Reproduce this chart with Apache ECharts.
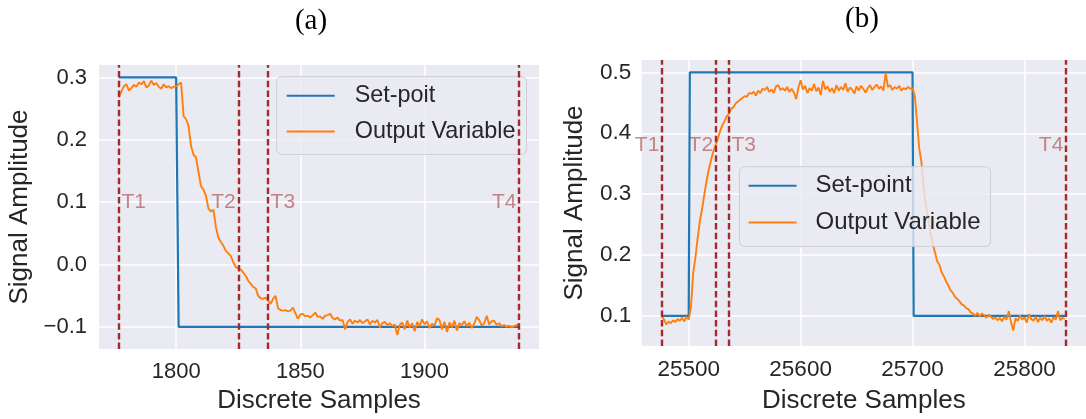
<!DOCTYPE html>
<html><head><meta charset="utf-8">
<script src="https://cdn.jsdelivr.net/npm/echarts@6/dist/echarts.min.js"></script>
<style>html,body{margin:0;padding:0;background:#fff}#c{width:1086px;height:419px}</style>
</head><body><div id="c"></div><script>
// ---------- DATA ----------
const leftStart = 1777;
const leftOutput = [
 0.268,0.278,0.286,0.289,0.279,0.283,0.288,0.285,0.292,0.289,
 0.294,0.284,0.287,0.295,0.288,0.291,0.285,0.282,0.289,0.284,
 0.286,0.283,0.285,0.286,0.289,0.292,0.238,0.233,0.222,0.190,
 0.176,0.172,0.148,0.126,0.120,0.110,0.090,0.085,0.088,0.060,
 0.043,0.036,0.030,0.022,0.018,0.014,0.004,-0.004,-0.006,-0.008,
 -0.013,-0.018,-0.026,-0.031,-0.036,-0.038,-0.050,-0.054,-0.055,-0.053,
 -0.058,-0.063,-0.055,-0.050,-0.070,-0.073,-0.074,-0.073,-0.075,-0.074,
 -0.069,-0.078,-0.087,-0.080,-0.079,-0.083,-0.082,-0.085,-0.081,-0.077,
 -0.084,-0.083,-0.087,-0.082,-0.081,-0.079,-0.086,-0.088,-0.085,-0.090,
 -0.089,-0.104,-0.092,-0.088,-0.095,-0.090,-0.093,-0.089,-0.094,-0.091,
 -0.088,-0.096,-0.090,-0.093,-0.089,-0.101,-0.094,-0.092,-0.097,-0.094,
 -0.099,-0.096,-0.113,-0.097,-0.093,-0.104,-0.090,-0.101,-0.094,-0.107,
 -0.092,-0.099,-0.088,-0.096,-0.091,-0.102,-0.095,-0.098,-0.086,-0.089,
 -0.104,-0.092,-0.108,-0.093,-0.101,-0.090,-0.106,-0.094,-0.097,-0.091,
 -0.099,-0.093,-0.102,-0.095,-0.084,-0.089,-0.098,-0.094,-0.082,-0.096,
 -0.091,-0.090,-0.097,-0.094,-0.099,-0.097,-0.100,-0.098,-0.101,-0.099,
 -0.097,-0.095
];
const leftSetX = [1777, 1800, 1801, 1938];
const leftSetY = [0.3, 0.3, -0.1, -0.1];
const leftTagX = [1777, 1825, 1837, 1938];
const leftTagNames = ['T1', 'T2', 'T3', 'T4'];
const leftTagLevel = 0.1;
const leftXTicks = [1800, 1850, 1900];
const leftYTicks = [-0.1, 0.0, 0.1, 0.2, 0.3];

const rightStart = 25476;
const rightStep = 2;
const rightOutput = [
 0.099,0.094,0.086,0.091,0.088,0.093,0.090,0.095,0.092,0.097,
 0.091,0.099,0.094,0.115,0.170,0.196,0.228,0.256,0.276,0.300,
 0.322,0.341,0.356,0.370,0.380,0.391,0.403,0.413,0.420,0.428,
 0.432,0.440,0.443,0.449,0.452,0.455,0.458,0.461,0.460,0.466,
 0.465,0.468,0.462,0.470,0.466,0.473,0.471,0.476,0.468,0.472,
 0.466,0.477,0.479,0.471,0.474,0.470,0.476,0.468,0.473,0.467,
 0.456,0.475,0.487,0.472,0.478,0.466,0.474,0.470,0.481,0.469,
 0.475,0.463,0.486,0.472,0.477,0.468,0.474,0.466,0.479,0.470,
 0.476,0.471,0.482,0.468,0.475,0.472,0.465,0.477,0.470,0.478,
 0.473,0.467,0.474,0.479,0.471,0.476,0.480,0.473,0.477,0.470,
 0.499,0.476,0.479,0.471,0.476,0.473,0.478,0.470,0.474,0.472,
 0.476,0.473,0.474,0.462,0.420,0.375,0.352,0.310,0.280,0.260,
 0.238,0.218,0.205,0.190,0.184,0.172,0.165,0.157,0.150,0.142,
 0.138,0.131,0.128,0.124,0.119,0.117,0.113,0.111,0.106,0.104,
 0.100,0.105,0.099,0.104,0.101,0.097,0.102,0.099,0.095,0.098,
 0.093,0.097,0.091,0.099,0.094,0.108,0.090,0.076,0.096,0.092,
 0.101,0.094,0.098,0.089,0.103,0.095,0.092,0.099,0.090,0.097,
 0.093,0.100,0.092,0.096,0.089,0.098,0.094,0.108,0.093,0.097,
 0.095
];
const rightSetX = [25476, 25500, 25501, 25700, 25701, 25837];
const rightSetY = [0.1, 0.1, 0.5, 0.5, 0.1, 0.1];
const rightTagX = [25476, 25524, 25536, 25837];
const rightTagNames = ['T1', 'T2', 'T3', 'T4'];
const rightTagLevel = 0.38;
const rightXTicks = [25500, 25600, 25700, 25800];
const rightYTicks = [0.1, 0.2, 0.3, 0.4, 0.5];

const titles = ['(a)', '(b)'];
const leftSetName = 'Set-poit';
const rightSetName = 'Set-point';
const outName = 'Output Variable';

// ---------- STYLE / BUILD ----------
const BLUE = '#1f77b4', ORANGE = '#ff7f0e', BROWN = '#a52a2a';
const TXT = '#262626', FONT = 'Liberation Sans';
const leftSides = ['right', 'left', 'right', 'left'];
const rightSides = ['left', 'left', 'right', 'left'];

const zip = (xs, ys) => xs.map((x, i) => [x, ys[i]]);
const leftOutData = leftOutput.map((v, i) => [leftStart + i, v]);
const rightOutData = rightOutput.map((v, i) => [rightStart + i * rightStep, v]);
const fmtY = v => (Math.abs(v) < 1e-9 ? '0.0' : v.toFixed(1)).replace('-', '\u2212');
const fmtX = v => String(Math.round(v));

function xAxis(idx, min, max, ticks, fs, margin, gap) {
  return {
    type: 'value', gridIndex: idx, min, max,
    name: 'Discrete Samples', nameLocation: 'middle', nameGap: gap,
    nameTextStyle: { fontSize: 26, color: TXT, fontFamily: FONT },
    axisLine: { show: false },
    axisTick: { show: false, customValues: ticks },
    axisLabel: { customValues: ticks, fontSize: fs, color: TXT, fontFamily: FONT, margin, formatter: fmtX },
    splitLine: { show: true, lineStyle: { color: '#ffffff', width: 1.5 } }
  };
}
function yAxis(idx, min, max, ticks, fs, margin, gap) {
  return {
    type: 'value', gridIndex: idx, min, max,
    name: 'Signal Amplitude', nameLocation: 'middle', nameGap: gap,
    nameTextStyle: { fontSize: 26, color: TXT, fontFamily: FONT },
    axisLine: { show: false },
    axisTick: { show: false, customValues: ticks },
    axisLabel: { customValues: ticks, fontSize: fs, color: TXT, fontFamily: FONT, margin, formatter: fmtY },
    splitLine: { show: true, lineStyle: { color: '#ffffff', width: 1.5 } }
  };
}
function vlines(xs) {
  return {
    silent: true, symbol: ['none', 'none'],
    label: { show: false },
    lineStyle: { color: BROWN, width: 2.4, type: [6.5, 3.2], opacity: 1 },
    emphasis: { disabled: true },
    data: xs.map(x => ({ xAxis: x }))
  };
}
function tags(idx, xs, names, level, sides) {
  return {
    type: 'scatter', xAxisIndex: idx, yAxisIndex: idx, silent: true,
    symbolSize: 1, itemStyle: { color: 'rgba(0,0,0,0)' }, z: 5,
    data: xs.map((x, i) => ({
      value: [x, level], name: names[i],
      label: {
        show: true, formatter: names[i], position: sides[i], distance: 2,
        fontSize: 21, fontFamily: FONT, color: 'rgba(160,40,40,0.68)'
      }
    }))
  };
}
function legend(names, left, top, pad, fs, gap, tpad) {
  return {
    data: names.map(n => ({ name: n, icon: 'rect' })),
    orient: 'vertical', left, top, padding: pad,
    itemWidth: 48, itemHeight: 2, itemGap: gap,
    backgroundColor: 'rgba(234,234,242,0.8)', borderColor: '#cdcdd4', borderWidth: 1, borderRadius: 5,
    selectedMode: false,
    textStyle: { fontSize: fs, color: TXT, fontFamily: FONT, padding: [0, 0, 0, tpad], lineHeight: 24 }
  };
}

const option = {
  animation: false,
  backgroundColor: '#ffffff',
  textStyle: { fontFamily: FONT },
  graphic: [
    { type: 'text', x: 311, y: 21, style: { text: titles[0], font: '29px "Liberation Serif"', fill: '#000', align: 'center', verticalAlign: 'middle' } },
    { type: 'text', x: 862, y: 19, style: { text: titles[1], font: '29px "Liberation Serif"', fill: '#000', align: 'center', verticalAlign: 'middle' } }
  ],
  grid: [
    { left: 99, top: 65, width: 440, height: 285, show: true, backgroundColor: '#EAEAF2', borderWidth: 0 },
    { left: 641.7, top: 60, width: 450, height: 293.3, show: true, backgroundColor: '#EAEAF2', borderWidth: 0 }
  ],
  xAxis: [
    xAxis(0, 1768.95, 1946.05, leftXTicks, 22, 12, 38),
    xAxis(1, 25458, 25855, rightXTicks, 22.5, 12, 42)
  ],
  yAxis: [
    yAxis(0, -0.1356, 0.3200, leftYTicks, 22, 12, 66),
    yAxis(1, 0.0507, 0.5203, rightYTicks, 22.5, 10.5, 54)
  ],
  legend: [
    legend([leftSetName, outName], 276.7, 76.7, [7, 11, 11, 10], 23.4, 11.7, 15),
    legend([rightSetName, outName], 739.5, 166.7, [7, 10, 12, 9], 24, 12.7, 14)
  ],
  series: [
    { type: 'line', name: leftSetName, xAxisIndex: 0, yAxisIndex: 0, data: zip(leftSetX, leftSetY),
      symbol: 'none', lineStyle: { color: BLUE, width: 2.2 }, itemStyle: { color: BLUE }, silent: true },
    { type: 'line', name: outName, xAxisIndex: 0, yAxisIndex: 0, data: leftOutData,
      symbol: 'none', lineStyle: { color: ORANGE, width: 1.9 }, itemStyle: { color: ORANGE }, silent: true,
      markLine: vlines(leftTagX) },
    tags(0, leftTagX, leftTagNames, leftTagLevel, leftSides),
    { type: 'line', name: rightSetName, xAxisIndex: 1, yAxisIndex: 1, data: zip(rightSetX, rightSetY),
      symbol: 'none', lineStyle: { color: BLUE, width: 2.2 }, itemStyle: { color: BLUE }, silent: true },
    { type: 'line', name: outName, xAxisIndex: 1, yAxisIndex: 1, data: rightOutData,
      symbol: 'none', lineStyle: { color: ORANGE, width: 1.9 }, itemStyle: { color: ORANGE }, silent: true,
      markLine: vlines(rightTagX) },
    tags(1, rightTagX, rightTagNames, rightTagLevel, rightSides)
  ]
};
const chart = echarts.init(document.getElementById('c'), null, { renderer: 'canvas' });
chart.setOption(option);
</script></body></html>
